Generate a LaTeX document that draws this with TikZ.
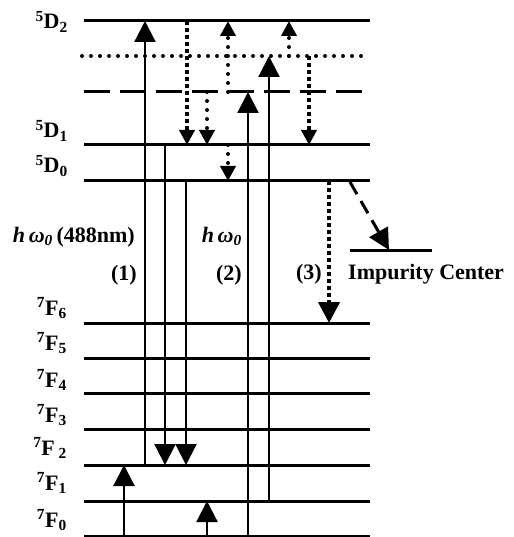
\documentclass[tikz,border=0pt]{standalone}
\usepackage{fontspec}
\setmainfont{Liberation Serif}
\usetikzlibrary{arrows.meta}
\begin{document}
\begin{tikzpicture}[x=1pt,y=-1pt,
 level/.style={line width=3pt},
 trans/.style={line width=2.2pt},
 bighead/.style={-{Triangle[width=21pt,length=21pt]}},
 smallhead/.style={-{Triangle[width=15pt,length=15pt]}},
 rdots/.style={line width=4pt, line cap=round, dash pattern=on 0pt off 9pt},
 sdots/.style={line width=4pt, dash pattern=on 4pt off 3pt},
 dashlevel/.style={line width=3pt, dash pattern=on 26pt off 10pt},
 dashtrans/.style={line width=3pt, dash pattern=on 14pt off 8pt},
 lab/.style={font=\fontsize{22}{24}\selectfont\bfseries, inner sep=0pt, anchor=base east},
 txt/.style={font=\fontsize{22}{24}\selectfont\bfseries, inner sep=0pt},
]
\useasboundingbox (0,0) rectangle (513,537);
% levels
\foreach \n/\y in {D2/21,D1/145,D0/181,F6/323,F5/358,F4/393,F3/429,F2/465,F1/501,F0/536}{
  \coordinate (\n L) at (84,\y);
  \coordinate (\n R) at (370,\y);
  \draw[level] (\n L) -- (\n R);
}
\coordinate (DtL) at (82,56); \coordinate (DtR) at (362,56);
\draw[rdots] (DtL) -- (DtR);
\coordinate (DdL) at (84,92); \coordinate (DdR) at (362,92);
\draw[dashlevel] (DdL) -- (DdR);
\coordinate (ImL) at (350,250); \coordinate (ImR) at (432,250);
\draw[level] (ImL) -- (ImR);

% level labels
\node[lab] (l5D2) at (68,29) {\textsuperscript{5}D\textsubscript{2}};
\node[lab] (l5D1) at (68,138) {\textsuperscript{5}D\textsubscript{1}};
\node[lab] (l5D0) at (68,173) {\textsuperscript{5}D\textsubscript{0}};
\node[lab] (l7F6) at (67,315) {\textsuperscript{7}F\textsubscript{6}};
\node[lab] (l7F5) at (67,350) {\textsuperscript{7}F\textsubscript{5}};
\node[lab] (l7F4) at (67,387) {\textsuperscript{7}F\textsubscript{4}};
\node[lab] (l7F3) at (67,422) {\textsuperscript{7}F\textsubscript{3}};
\node[lab] (l7F2) at (67,455) {\textsuperscript{7}F\,\textsubscript{2}};
\node[lab] (l7F1) at (67,490) {\textsuperscript{7}F\textsubscript{1}};
\node[lab] (l7F0) at (67,527) {\textsuperscript{7}F\textsubscript{0}};

% other labels
\node[lab] (hw1) at (135,242) {\textit{h\,ω\textsubscript{0}}\,(488nm)};
\node[lab] (n1) at (137,280) {(1)};
\node[lab] (hw2) at (242,242) {\textit{h\,ω\textsubscript{0}}};
\node[lab] (n2) at (242,280) {(2)};
\node[lab] (n3) at (322,279) {(3)};
\node[txt, anchor=base west] (imp) at (348,279) {Impurity Center};

% transition endpoints
\coordinate (a1s) at (145,465); \coordinate (a1e) at (145,21);
\coordinate (a2s) at (165,145); \coordinate (a2e) at (165,465);
\coordinate (a3s) at (186,181); \coordinate (a3e) at (186,465);
\coordinate (a4s) at (187,21);  \coordinate (a4e) at (187,145);
\coordinate (a5s) at (207,92);  \coordinate (a5e) at (207,145);
\coordinate (a6s) at (228,145); \coordinate (a6e) at (228,181);
\coordinate (a7s) at (228,92);  \coordinate (a7e) at (228,21);
\coordinate (a8s) at (289,56);  \coordinate (a8e) at (289,21);
\coordinate (a9s) at (248,536); \coordinate (a9e) at (248,92);
\coordinate (a10s) at (269,501); \coordinate (a10e) at (269,56);
\coordinate (a11s) at (309,56); \coordinate (a11e) at (309,145);
\coordinate (a12s) at (329,181); \coordinate (a12e) at (329,323);
\coordinate (a13s) at (350,182); \coordinate (a13e) at (389,250);
\coordinate (a14s) at (124,536); \coordinate (a14e) at (124,465);
\coordinate (a15s) at (207,536); \coordinate (a15e) at (207,501);

% solid transitions
\draw[trans,bighead] (a1s) -- (a1e);
\draw[trans,bighead] (a2s) -- (a2e);
\draw[trans,bighead] (a3s) -- (a3e);
\draw[trans,bighead] (a9s) -- (a9e);
\draw[trans,bighead] (a10s) -- (a10e);
\draw[trans,bighead] (a14s) -- (a14e);
\draw[trans,bighead] (a15s) -- (a15e);
% dotted transitions
\draw[sdots,smallhead] (a4s) -- (a4e);
\draw[rdots,smallhead] (a5s) -- (a5e);
\draw[rdots,smallhead] (a6s) -- (a6e);
\draw[rdots,smallhead] (a7s) -- (a7e);
\draw[rdots,smallhead] (a8s) -- (a8e);
\draw[sdots,smallhead] (a11s) -- (a11e);
\draw[sdots,bighead] (a12s) -- (a12e);
% dashed transition to impurity
\draw[dashtrans,bighead] (a13s) -- (a13e);
\end{tikzpicture}
\end{document}
